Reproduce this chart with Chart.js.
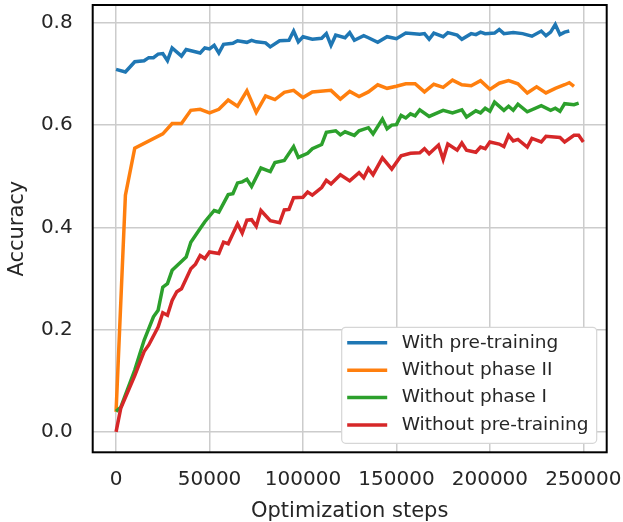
<!DOCTYPE html>
<html>
<head>
<meta charset="utf-8">
<script src="https://cdn.jsdelivr.net/npm/chart.js@4.4.0/dist/chart.umd.min.js"></script>
<style>
  body { margin: 0; background: #fff; }
  #wrap { width: 623px; height: 522px; }
</style>
</head>
<body>
<div id="wrap"><canvas id="chart" width="623" height="522"></canvas></div>
<script>
// series data
const labels = ['With pre-training', 'Without phase II', 'Without phase I', 'Without pre-training'];
const colors = ['#1f77b4', '#ff7f0e', '#2ca02c', '#d62728'];

const stepsPre = [0,5000,10000,15000,17500,20000,22500,25000,27500,30000,35000,37500,45000,47500,50000,52500,55000,57500,62500,65000,70000,72500,75000,80000,82500,87500,92500,95000,97500,100000,105000,110000,112500,115000,117500,122500,125000,127500,132500,135000,140000,145000,150000,155000,162500,165000,167500,170000,175000,177500,182500,185000,190000,192500,195000,197500,202500,205000,207500,212500,217500,222500,227500,230000,232500,235000,237500,240000,242500];
const accPre = [0.709,0.704,0.724,0.726,0.732,0.732,0.739,0.740,0.726,0.751,0.735,0.748,0.741,0.751,0.749,0.756,0.741,0.758,0.760,0.765,0.762,0.766,0.763,0.761,0.753,0.765,0.766,0.784,0.763,0.773,0.768,0.770,0.779,0.756,0.776,0.771,0.781,0.766,0.775,0.771,0.762,0.773,0.769,0.780,0.778,0.779,0.768,0.780,0.773,0.781,0.776,0.768,0.779,0.777,0.782,0.779,0.780,0.787,0.779,0.781,0.779,0.774,0.784,0.775,0.782,0.797,0.777,0.782,0.784];

const stepsNoP2 = [0,5000,10000,25000,30000,35000,40000,45000,50000,55000,60000,65000,70000,75000,80000,85000,90000,95000,100000,105000,115000,120000,125000,130000,135000,140000,145000,150000,155000,160000,165000,170000,175000,180000,185000,190000,195000,200000,205000,210000,215000,220000,225000,230000,235000,240000,242500,245000];
const accNoP2 = [0.039,0.463,0.555,0.583,0.603,0.603,0.629,0.631,0.624,0.631,0.649,0.637,0.667,0.625,0.657,0.650,0.664,0.668,0.654,0.665,0.668,0.651,0.666,0.656,0.665,0.679,0.672,0.676,0.681,0.681,0.665,0.680,0.674,0.688,0.679,0.677,0.687,0.670,0.682,0.687,0.681,0.663,0.675,0.663,0.672,0.679,0.683,0.676];

const stepsNoP1 = [0,2500,10000,15000,20000,22500,25000,27500,30000,37500,40000,45000,47500,52500,55000,60000,62500,65000,67500,70000,72500,77500,82500,85000,90000,95000,97500,102500,105000,110000,112500,117500,120000,122500,127500,130000,135000,137500,142500,145000,147500,150000,152500,155000,157500,160000,162500,167500,172500,175000,180000,185000,187500,192500,195000,197500,200000,202500,207500,210000,212500,215000,220000,227500,232500,235000,237500,240000,245000,247500];
const accNoP1 = [0.040,0.048,0.121,0.179,0.225,0.238,0.283,0.290,0.316,0.342,0.371,0.398,0.411,0.433,0.430,0.464,0.466,0.487,0.489,0.494,0.480,0.516,0.509,0.527,0.531,0.558,0.537,0.545,0.554,0.562,0.586,0.589,0.581,0.587,0.580,0.589,0.595,0.583,0.612,0.593,0.600,0.601,0.619,0.614,0.622,0.618,0.630,0.617,0.625,0.629,0.624,0.630,0.616,0.628,0.624,0.633,0.627,0.645,0.629,0.637,0.629,0.641,0.626,0.638,0.629,0.633,0.627,0.642,0.640,0.643];

const stepsNone = [0,2500,10000,15000,17500,22500,25000,27500,30000,32500,35000,40000,42500,45000,47500,50000,55000,57500,60000,65000,67500,70000,72500,75000,77500,82500,87500,90000,92500,95000,100000,102500,105000,110000,112500,115000,120000,125000,130000,132500,135000,137500,142500,147500,152500,157500,162500,165000,167500,172500,175000,177500,182500,185000,187500,192500,195000,197500,200000,205000,207500,210000,212500,215000,220000,222500,227500,230000,237500,240000,245000,247500,250000];
const accNone = [0.000,0.046,0.110,0.157,0.170,0.205,0.233,0.228,0.257,0.274,0.280,0.319,0.328,0.345,0.339,0.352,0.349,0.371,0.368,0.407,0.389,0.414,0.415,0.402,0.433,0.413,0.409,0.434,0.435,0.458,0.459,0.469,0.463,0.478,0.492,0.485,0.503,0.491,0.507,0.497,0.515,0.503,0.536,0.514,0.540,0.545,0.546,0.554,0.544,0.561,0.533,0.563,0.551,0.565,0.551,0.547,0.557,0.554,0.567,0.563,0.558,0.580,0.569,0.572,0.557,0.574,0.567,0.578,0.576,0.567,0.580,0.580,0.567];

const xTicks = [0, 50000, 100000, 150000, 200000, 250000];
const yTicks = [0.0, 0.2, 0.4, 0.6, 0.8];

const allSteps = [stepsPre, stepsNoP2, stepsNoP1, stepsNone];
const allAcc = [accPre, accNoP2, accNoP1, accNone];

const textColor = '#262626';
const font = 'DejaVu Sans';

function pairs(steps, vals) {
  return vals.map((v, i) => ({ x: steps[i], y: v }));
}

// black box round the plot, like matplotlib spines
const framePlugin = {
  id: 'frame',
  afterDatasetsDraw(chart) {
    const a = chart.chartArea;
    const ctx = chart.ctx;
    ctx.save();
    ctx.strokeStyle = '#000';
    ctx.lineWidth = 2;
    ctx.strokeRect(a.left, a.top, a.right - a.left, a.bottom - a.top);
    ctx.restore();
  }
};

// legend in the lower right corner of the plot
const legendPlugin = {
  id: 'cornerLegend',
  afterDraw(chart) {
    const a = chart.chartArea;
    const ctx = chart.ctx;
    const w = 255, h = 116;
    const x0 = a.right - 10 - w, y0 = a.bottom - 9 - h;
    ctx.save();
    ctx.beginPath();
    ctx.roundRect(x0, y0, w, h, 4);
    ctx.fillStyle = '#fff';
    ctx.fill();
    ctx.strokeStyle = '#d6d6d6';
    ctx.lineWidth = 1.2;
    ctx.stroke();
    ctx.font = '18.5px "' + font + '"';
    ctx.textBaseline = 'middle';
    chart.data.datasets.forEach((ds, i) => {
      const y = y0 + 15.5 + i * 27.4;
      ctx.beginPath();
      ctx.moveTo(x0 + 5.5, y);
      ctx.lineTo(x0 + 45.5, y);
      ctx.strokeStyle = ds.borderColor;
      ctx.lineWidth = 3.5;
      ctx.stroke();
      ctx.fillStyle = textColor;
      ctx.fillText(ds.label, x0 + 60, y);
    });
    ctx.restore();
  }
};

const datasets = labels.map((lab, i) => ({
  label: lab,
  data: pairs(allSteps[i], allAcc[i]),
  borderColor: colors[i],
  backgroundColor: colors[i],
  borderWidth: 3.5,
  pointRadius: 0,
  tension: 0,
  fill: false,
  order: 4 - i
}));

const ctx = document.getElementById('chart').getContext('2d');
const chart = new Chart(ctx, {
  type: 'line',
  data: { datasets: datasets },
  options: {
    responsive: false,
    animation: false,
    layout: { padding: { top: 5, right: 16.3, left: 0, bottom: 0 } },
    plugins: {
      legend: { display: false },
      tooltip: { enabled: false }
    },
    scales: {
      x: {
        type: 'linear',
        min: -12500,
        max: 262500,
        afterFit: s => { s.height = 69.7; s.paddingLeft = 0; s.paddingRight = 0; },
        afterBuildTicks: s => { s.ticks = xTicks.map(v => ({ value: v })); },
        ticks: {
          stepSize: 50000,
          includeBounds: false,
          maxRotation: 0,
          autoSkip: false,
          padding: 15,
          color: textColor,
          font: { family: font, size: 20 },
          callback: v => String(v)
        },
        grid: { color: '#cccccc', lineWidth: 1.5, drawTicks: false },
        border: { display: false },
        title: {
          display: true,
          text: 'Optimization steps',
          color: textColor,
          font: { family: font, size: 21, lineHeight: 1 },
          padding: { top: 0, bottom: 0 }
        }
      },
      y: {
        min: -0.04,
        max: 0.835,
        afterFit: s => { s.width = 92.7; s.paddingTop = 0; s.paddingBottom = 0; },
        afterBuildTicks: s => { s.ticks = yTicks.map(v => ({ value: v })); },
        ticks: {
          stepSize: 0.2,
          includeBounds: false,
          padding: 20,
          color: textColor,
          font: { family: font, size: 20 },
          callback: v => v.toFixed(1)
        },
        grid: { color: '#cccccc', lineWidth: 1.5, drawTicks: false },
        border: { display: false },
        title: {
          display: true,
          text: 'Accuracy',
          color: textColor,
          font: { family: font, size: 21, lineHeight: 1 },
          padding: { top: 7.5, bottom: 0 }
        }
      }
    }
  },
  plugins: [framePlugin, legendPlugin]
});
</script>
</body>
</html>
